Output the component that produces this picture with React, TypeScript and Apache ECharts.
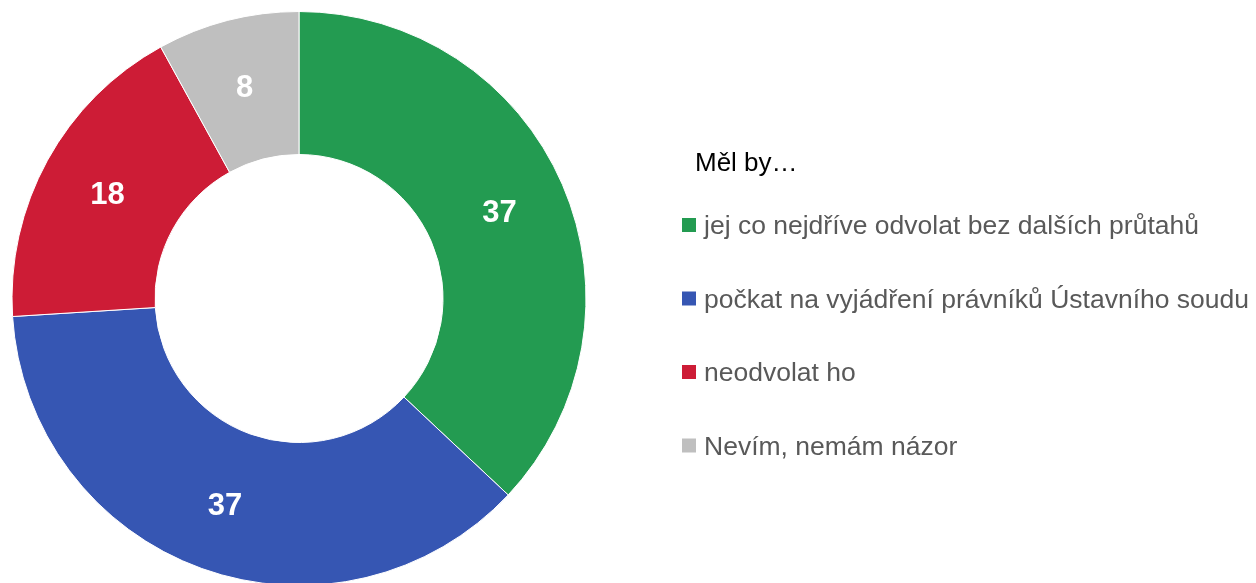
import React, { useEffect, useRef } from "react";
import * as echarts from "echarts";

const categories = [
  "jej co nejdříve odvolat bez dalších průtahů",
  "počkat na vyjádření právníků Ústavního soudu",
  "neodvolat ho",
  "Nevím, nemám názor",
];
const values = [37, 37, 18, 8];
const colors = ["#239B51", "#3656B3", "#CD1C36", "#BFBFBF"];
const legendTitle = "Měl by…";

export default function App() {
  const ref = useRef<HTMLDivElement>(null);
  useEffect(() => {
    if (!ref.current) return;
    const chart = echarts.init(ref.current, undefined, { renderer: "svg" });
    chart.setOption({
      animation: false,
      title: {
        text: legendTitle,
        left: 690,
        top: 142,
        textStyle: {
          fontFamily: "Liberation Sans, Arial, sans-serif",
          fontSize: 26,
          lineHeight: 30,
          fontWeight: "normal",
          color: "#000000",
        },
      },
      legend: {
        orient: "vertical",
        left: 675,
        top: 205,
        icon: "rect",
        itemWidth: 16,
        itemHeight: 16,
        itemGap: 43.5,
        data: categories,
        textStyle: {
          fontFamily: "Liberation Sans, Arial, sans-serif",
          fontSize: 26.5,
          lineHeight: 30,
          color: "#595959",
          padding: [0, 0, 0, 2],
        },
      },
      series: [
        {
          type: "pie",
          center: [299, 298.5],
          radius: [144, 287],
          startAngle: 90,
          clockwise: true,
          data: categories.map((name, i) => ({
            name,
            value: values[i],
            itemStyle: { color: colors[i] },
          })),
          itemStyle: { borderColor: "#ffffff", borderWidth: 1 },
          label: {
            show: true,
            position: "inside",
            formatter: "{c}",
            color: "#ffffff",
            fontFamily: "Liberation Sans, Arial, sans-serif",
            fontWeight: "bold",
            fontSize: 31,
          },
          labelLine: { show: false },
          emphasis: { disabled: true },
        },
      ],
    });
    return () => chart.dispose();
  }, []);
  return (
    <div
      ref={ref}
      style={{ position: "fixed", left: 0, top: 0, width: 1256, height: 583 }}
    />
  );
}
